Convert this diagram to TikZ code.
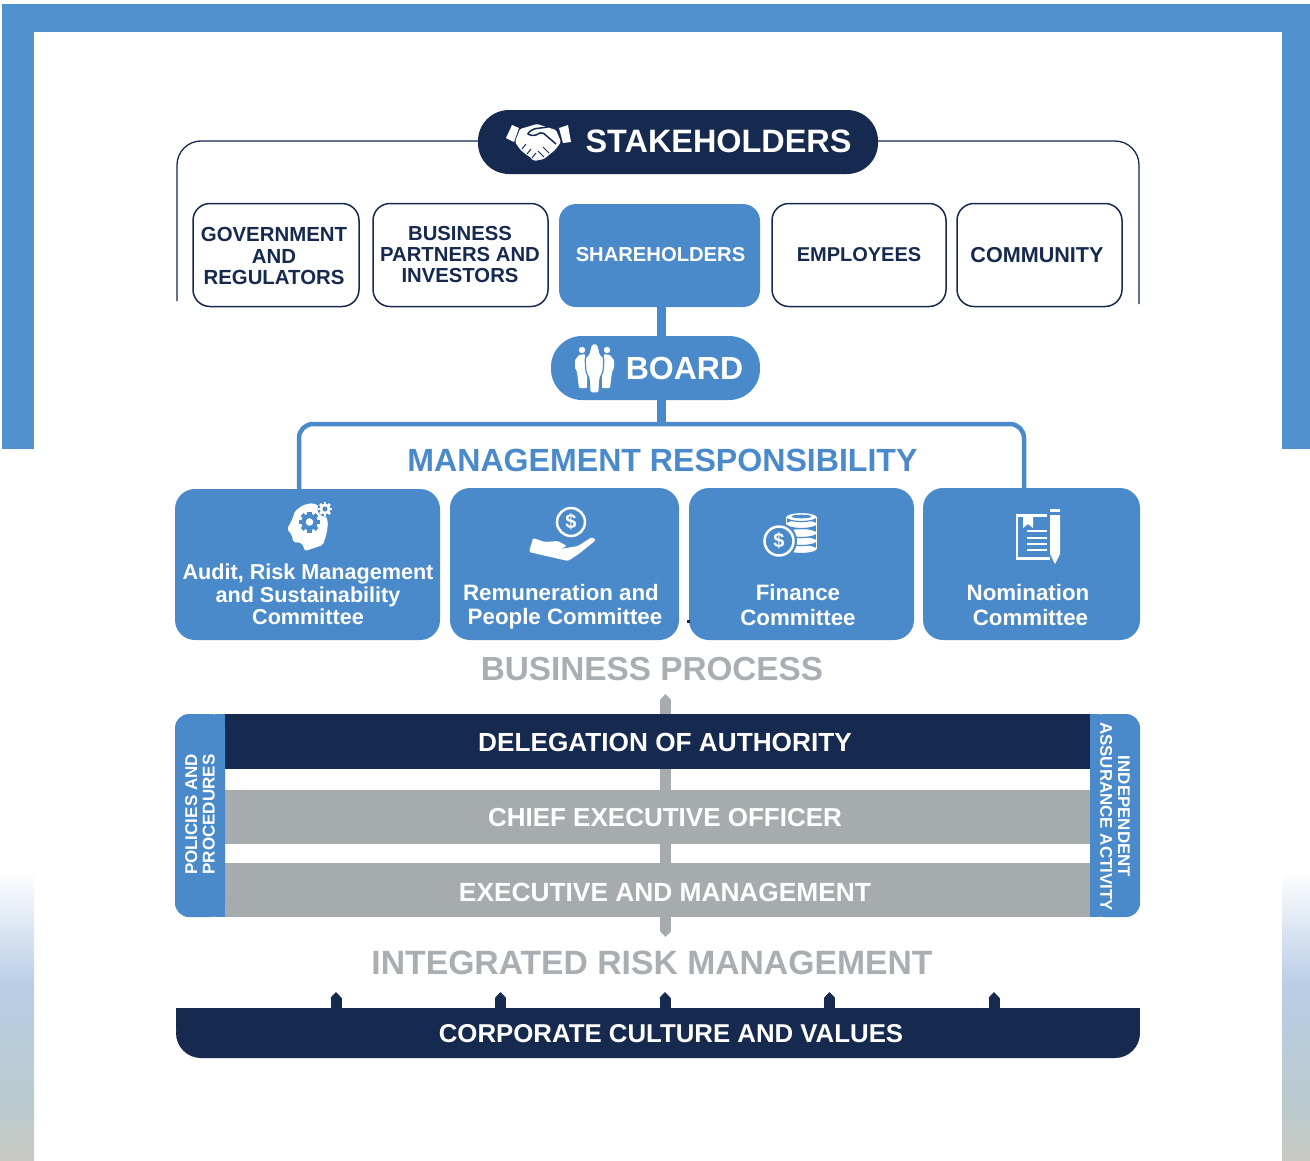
\documentclass[tikz,border=0pt]{standalone}
\usepackage{fontspec}
\setmainfont{Liberation Sans}
\usetikzlibrary{arrows.meta,calc}
\definecolor{frameblue}{HTML}{4F90CF}
\definecolor{bblue}{HTML}{4A8ACA}
\definecolor{navy}{HTML}{16294F}
\definecolor{ggray}{HTML}{A6ABAE}
\definecolor{tgray}{HTML}{A9AEB2}
\definecolor{gA}{HTML}{B9CDE6}
\definecolor{gB}{HTML}{B9CBCE}
\definecolor{gC}{HTML}{C9C9C3}
\newcommand{\fs}[1]{\bfseries\fontsize{#1}{#1}\selectfont}
\newcommand{\gearicon}[5]{% x y r fg bg
  \fill[#4] (#1,#2) circle[radius=#3*0.78];
  \foreach \ang in {0,45,...,315}{
    \fill[#4,shift={(#1,#2)},rotate=\ang] (#3*0.62,-#3*0.2) rectangle (#3,#3*0.2);
  }
  \fill[#5] (#1,#2) circle[radius=#3*0.36];
}
\tikzset{
  pill/.style={rectangle,rounded corners=31pt,inner sep=0pt,minimum height=64pt},
  stakebox/.style={rectangle,rounded corners=17pt,draw=navy,line width=1.5pt,fill=white,text=navy,inner sep=0pt,minimum height=103pt,align=center},
  committee/.style={rectangle,rounded corners=20pt,fill=bblue,inner sep=0pt,minimum height=152pt},
  ctext/.style={text=white,align=center,font=\fs{22.3},inner sep=0pt},
  bar/.style={rectangle,inner sep=0pt,minimum height=54pt},
  heading/.style={inner sep=0pt},
  sidetext/.style={text=white,align=center,inner sep=0pt},
  bracket/.style={draw=navy,line width=1.3pt,rounded corners=24pt},
  trunk/.style={draw=bblue,line width=9pt},
  mgmt/.style={draw=bblue,line width=4.5pt,rounded corners=14pt},
  grayarrow/.style={draw=ggray,line width=11pt,{Triangle[width=11pt,length=6pt]}-{Triangle[width=11pt,length=6pt]}},
  navyarrow/.style={draw=navy,line width=11pt,-{Triangle[width=11pt,length=6pt]}},
}
\begin{document}
\begin{tikzpicture}[x=1pt,y=-1pt]
\useasboundingbox (0,0) rectangle (1310,1160);
% frame and background
\fill[white] (0,0) rectangle (1310,1160);
\fill[frameblue] (2,4) rectangle (1310,449);
\fill[white] (34,32) rectangle (1282,449);
\foreach \xa/\xb in {0/34,1282/1310}{
  \shade[top color=white,bottom color=gA] (\xa,870) rectangle (\xb,985);
  \shade[top color=gA,bottom color=gB] (\xa,985) rectangle (\xb,1100);
  \shade[top color=gB,bottom color=gC] (\xa,1100) rectangle (\xb,1160);
}
% free ends
\coordinate (bl) at (177,301);
\coordinate (br) at (1139,304);
\coordinate (ml) at (299,490);
\coordinate (mt) at (661,424);
\coordinate (mr) at (1024,490);
\coordinate (atop) at (665.5,694);
\coordinate (abot) at (665.5,937);
% stakeholders
\node[pill,fill=navy,minimum width=400pt] (stake) at (678,142) {};
\draw[bracket] (bl) |- ($(stake.west)+(0,-1)$);
\draw[bracket] (br) |- ($(stake.east)+(0,-1)$);
\node[font=\fs{32.4},text=white,inner sep=0pt] (staketext) at (718.5,141.5) {STAKEHOLDERS};
\node[stakebox,minimum width=166pt] (gov) at (276,255) {};
\node[text=navy,align=center,font=\fs{20.4},inner sep=0pt] (govtext) at (274,256) {GOVERNMENT\\[1pt]AND\\[1pt]REGULATORS};
\node[stakebox,minimum width=175pt] (biz) at (460.5,255) {};
\node[text=navy,align=center,font=\fs{20.3},inner sep=0pt] (biztext) at (460,254.5) {BUSINESS\\[1pt]PARTNERS AND\\[1pt]INVESTORS};
\node[rectangle,rounded corners=17pt,fill=bblue,text=white,inner sep=0pt,minimum width=201pt,minimum height=103pt,font=\fs{20.2}] (share) at (659.5,255.5) {\raisebox{3pt}{\hspace*{2pt}SHAREHOLDERS}};
\node[stakebox,minimum width=174pt,font=\fs{20}] (emp) at (859,255) {\raisebox{-1pt}{EMPLOYEES}};
\node[stakebox,minimum width=165pt,font=\fs{21.6}] (com) at (1039.5,255) {\raisebox{-1pt}{\hspace*{-5pt}COMMUNITY}};
% board
\node[pill,fill=bblue,minimum width=209pt] (board) at (655.5,368) {};
\node[font=\fs{32},text=white,inner sep=0pt] (boardtext) at (684.5,368.5) {BOARD};
\draw[trunk] (share.south -| mt) -- (board.north -| mt);
\draw[trunk] (board.south -| mt) -- (mt);
\draw[mgmt] (ml) |- (mt) -| (mr);
\node[heading,text=bblue,font=\fs{32.1}] (mrtext) at (662.5,460) {MANAGEMENT RESPONSIBILITY};
% committees
\node[committee,minimum width=265pt,minimum height=151pt] (audit) at (307.5,564.5) {};
\node[committee,minimum width=229pt] (remun) at (564.5,564) {};
\node[committee,minimum width=225pt] (fin) at (801.5,564) {};
\node[committee,minimum width=217pt] (nom) at (1031.5,564) {};
\node[ctext,font=\fs{21.6}] (audittext) at (308,594.5) {Audit, Risk Management\\[1pt]and Sustainability\\[1pt]Committee};
\node[ctext] (remuntext) at (563.5,607) {\hspace*{-5pt}Remuneration and\\[1.5pt]\hspace*{3pt}People Committee};
\node[ctext] (fintext) at (798,605) {Finance\\[2pt]Committee};
\node[ctext] (nomtext) at (1028,605) {Nomination\\[2pt]\hspace*{5pt}Committee};
\fill[navy] (687,620) rectangle (689.5,622.5);
\node[heading,text=tgray,font=\fs{33.3}] (bptext) at (652,669.5) {BUSINESS PROCESS};
% central arrow (behind the bars)
\draw[grayarrow] (atop) -- (abot);
% bars
\node[bar,fill=navy,minimum width=866pt,minimum height=55pt] (doa) at (657,741.5) {};
\node[bar,fill=ggray,minimum width=865pt] (ceo) at (657.5,817) {};
\node[bar,fill=ggray,minimum width=865pt] (exec) at (657.5,890) {};
\node[text=white,font=\fs{26.2},inner sep=0pt] (doatext) at (665,742.5) {DELEGATION OF AUTHORITY};
\node[text=white,font=\fs{26},inner sep=0pt] (ceotext) at (665,817.5) {CHIEF EXECUTIVE OFFICER};
\node[text=white,font=\fs{26.3},inner sep=0pt] (exectext) at (665,892.5) {EXECUTIVE AND MANAGEMENT};
% side panels
\fill[bblue,rounded corners=14pt] (225,714) -- (175,714) -- (175,917) -- (225,917) -- cycle;
\fill[bblue] (215,714) rectangle (225,917);
\fill[bblue,rounded corners=14pt] (1090,714) -- (1140,714) -- (1140,917) -- (1090,917) -- cycle;
\fill[bblue] (1090,714) rectangle (1100,917);
\node[sidetext,rotate=90,font=\fs{17}] (poltext) at (200,814.5) {POLICIES AND\\[0.5pt]PROCEDURES};
\node[sidetext,rotate=-90,font=\fs{16.9}] (indtext) at (1115,816.5) {INDEPENDENT\\[1pt]ASSURANCE ACTIVITY};
\node[heading,text=tgray,font=\fs{33.7}] (irmtext) at (652,963) {INTEGRATED RISK MANAGEMENT};
% culture band
\fill[navy,rounded corners=25pt] (176,1008) -- (176,1058) -- (1140,1058) -- (1140,1008) -- cycle;
\fill[navy] (176,1008) rectangle (1140,1030);
\node[inner sep=0pt,minimum width=964pt,minimum height=50pt] (culture) at (658,1033) {};
\node[text=white,font=\fs{25.8},inner sep=0pt] (culturetext) at (671,1034) {CORPORATE CULTURE AND VALUES};
\foreach \i/\ax in {1/336,2/500.5,3/665,4/829.5,5/994}{
  \coordinate (up\i) at (\ax,992);
  \draw[navyarrow] (culture.north -| up\i) -- (up\i);
}
% --- icons ---
% handshake
\fill[white] (506,138) -- (512,125) -- (519,128) -- (514,142) -- cycle;
\fill[white] (559,128) -- (568,125) -- (571,142) -- (563,143) -- cycle;
\fill[white,rounded corners=1.5pt] (520,129) -- (537,124) -- (556,130) -- (561,142) -- (555,150) -- (544,159) -- (534,161) -- (530,157) -- (524,153) -- (519,148) -- (515,142) -- cycle;
\draw[navy,line width=1.5pt,rounded corners=2pt] (548,127) -- (533,129) -- (527,134) -- (534,136) -- (542,132) -- (556,144);
\draw[navy,line width=1pt] (526,144) -- (522,149) (531,149) -- (527,154) (536,153) -- (532,158) (543,147) -- (549,153) (538,151) -- (544,157);
% board people
\fill[white] (582,350) circle[radius=3.2];
\fill[white] (607,350) circle[radius=3.2];
\fill[white,rounded corners=1pt] (579,355) -- (585,354) -- (587,372) -- (587,388) -- (579,388) -- (577,372) -- (575,368) -- (575,360) -- cycle;
\fill[white,rounded corners=1pt] (610,355) -- (604,354) -- (602,372) -- (602,388) -- (610,388) -- (612,372) -- (614,368) -- (614,360) -- cycle;
\fill[white,draw=bblue,line width=1.2pt,rounded corners=1.5pt] (594.5,343) -- (598,345) -- (600,354) -- (604,358) -- (603,372) -- (600,378) -- (599,393) -- (590,393) -- (589,378) -- (586,372) -- (585,358) -- (589,354) -- (591,345) -- cycle;
% head with gears
\fill[white,rounded corners=2pt] (287,529) -- (292,520) -- (295,511) -- (303,505) -- (313,503) -- (323,508) -- (328,522) -- (327,532) -- (323,545) -- (305,551) -- (302,543) -- (293,542) -- (292,535) -- cycle;
\gearicon{309.5}{522}{10.5}{bblue}{white}
\fill[bblue] (325,509) circle[radius=7.5];
\gearicon{325}{509}{7}{white}{bblue}
% coin on hand
\draw[white,line width=2.5pt] (571,522) circle[radius=14];
\node[text=white,font=\fs{20},inner sep=0pt] (dollarA) at (571,522) {\$};
\fill[white,rounded corners=1.5pt] (533,538) -- (529,552) -- (568,561) -- (580,553) -- (596,540) -- (592,537) -- (578,546) -- (560,549) -- (567,546) -- (558,541) -- (545,542) -- cycle;
% coin stack
\foreach \ly in {549,541,533,524,517}{
  \fill[white,draw=bblue,line width=1.2pt] (801.5,\ly) ellipse[x radius=16,y radius=4.5];
}
\fill[white] (786.2,517) rectangle (786.8,549);
\fill[white] (816.2,517) rectangle (816.8,549);
\fill[bblue] (801.5,516.5) ellipse[x radius=10,y radius=1.8];
\fill[bblue] (779,541) circle[radius=18];
\draw[white,line width=2.5pt] (779,541) circle[radius=14.5];
\node[text=white,font=\fs{20},inner sep=0pt] (dollarB) at (779,541) {\$};
% document and pencil
\draw[white,line width=2.5pt] (1047,515.5) -- (1017,515.5) -- (1017,558.5) -- (1050,558.5);
\fill[white] (1023,516) -- (1033,516) -- (1033,528) -- (1028,524) -- (1023,528) -- cycle;
\foreach \ly in {531,538,544,550}{\draw[white,line width=2pt] (1027,\ly) -- (1047,\ly);}
\fill[white] (1050,509) rectangle (1060,512);
\fill[white] (1050,515) -- (1060,515) -- (1060,554) -- (1055,564) -- (1050,554) -- cycle;
\end{tikzpicture}
\end{document}
